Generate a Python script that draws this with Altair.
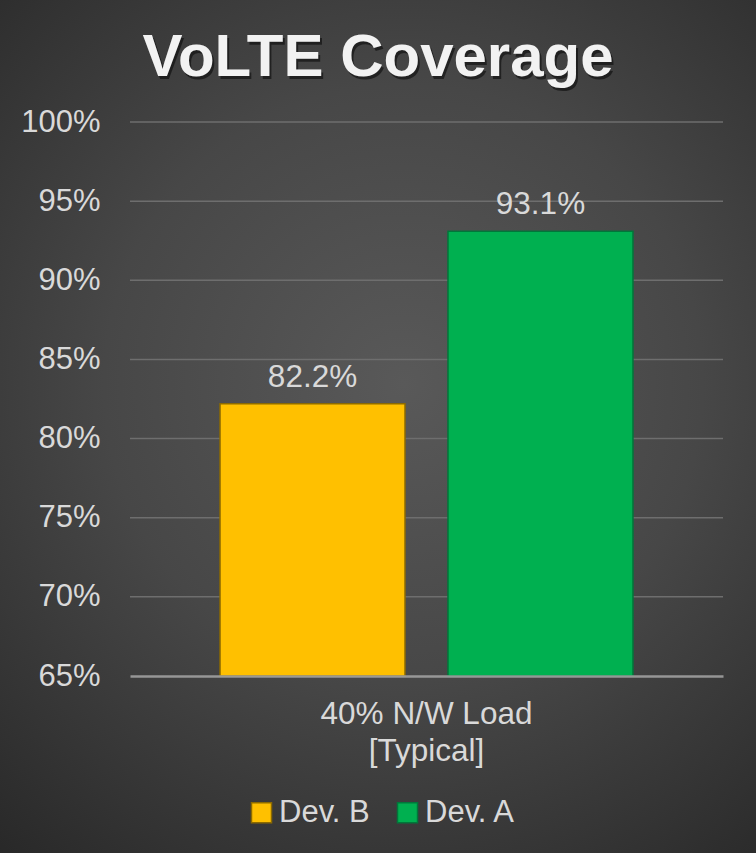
import altair as alt
import pandas as pd

# ---------------- data ----------------
TITLE = "VoLTE Coverage"
CATEGORY = "40% N/W Load|[Typical]"
DEVICES = ["Dev. B", "Dev. A"]
VALUES = [0.822, 0.931]
FILL_COLORS = ["#FFC000", "#00B050"]
STROKE_COLORS = ["#8C6A00", "#00773A"]
Y_TICKS = [0.65, 0.70, 0.75, 0.80, 0.85, 0.90, 0.95, 1.00]
Y_MIN, Y_MAX = 0.65, 1.00

# ---------------- layout ----------------
W, H = 593, 554
PAD_L, PAD_T, PAD_R, PAD_B = 130, 122, 33, 177
FONT = "Liberation Sans"
TXT = "#D9D9D9"

df = pd.DataFrame({
    "cat": [CATEGORY] * len(DEVICES),
    "dev": DEVICES,
    "val": VALUES,
    "base": [Y_MIN] * len(DEVICES),
})
grid_df = pd.DataFrame({"tick": Y_TICKS[1:]})

x_enc = alt.X("cat:N", scale=alt.Scale(paddingInner=0, paddingOuter=0.218),
              axis=alt.Axis(title=None, labelAngle=0, ticks=False, domain=True,
                            domainColor="#A6A6A6", domainWidth=2.5, domainOpacity=0.85,
                            labelExpr="split(datum.label, '|')", labelLimit=0,
                            labelFont=FONT, labelFontSize=31.5, labelColor=TXT,
                            labelLineHeight=37, labelPadding=22, grid=False, zindex=1))
xo_enc = alt.XOffset("dev:N", sort=DEVICES,
                     scale=alt.Scale(paddingInner=0.1886, paddingOuter=0))
y_scale = alt.Scale(domain=[Y_MIN, Y_MAX], zero=False, nice=False)
y_axis = alt.Axis(title=None, values=Y_TICKS, format=".0%", ticks=False, domain=False,
                  grid=False, labelFont=FONT, labelFontSize=31, labelColor=TXT,
                  labelPadding=30, zindex=1)

legend_props = dict(title=None, orient="none", direction="horizontal",
                    legendX=116, legendY=675, symbolType="square",
                    symbolSize=400, symbolStrokeWidth=1.5,
                    labelFont=FONT, labelFontSize=31, labelColor=TXT,
                    labelOffset=2, columnPadding=22, padding=0)

bg = alt.Chart(alt.Data(values=[{}])).mark_rect(
    fill=alt.RadialGradient(
        gradient="radial",
        stops=[alt.GradientStop(offset=0, color="#595959"),
               alt.GradientStop(offset=0.45, color="#474747"),
               alt.GradientStop(offset=1, color="#242424")],
        x1=0.53, y1=0.45, r1=0, x2=0.53, y2=0.45, r2=0.78)
).encode(x=alt.value(-PAD_L), x2=alt.value(W + PAD_R),
         y=alt.value(-PAD_T), y2=alt.value(H + PAD_B))

grid = alt.Chart(grid_df).mark_rule(color="#6E6E6E", strokeWidth=1.5).encode(
    y=alt.Y("tick:Q", scale=y_scale, axis=y_axis)
)

bars = alt.Chart(df).mark_bar(strokeWidth=1.5).encode(
    x=x_enc,
    xOffset=xo_enc,
    y=alt.Y("val:Q", scale=y_scale, axis=y_axis),
    y2="base:Q",
    color=alt.Color("dev:N", sort=DEVICES,
                    scale=alt.Scale(domain=DEVICES, range=FILL_COLORS),
                    legend=alt.Legend(**legend_props)),
    stroke=alt.Stroke("dev:N", sort=DEVICES,
                      scale=alt.Scale(domain=DEVICES, range=STROKE_COLORS),
                      legend=alt.Legend(**legend_props)),
)

labels = alt.Chart(df).mark_text(dy=-17, baseline="alphabetic", font=FONT,
                                 fontSize=31.5, color=TXT).encode(
    x=x_enc, xOffset=xo_enc,
    y=alt.Y("val:Q", scale=y_scale, axis=y_axis),
    text=alt.Text("val:Q", format=".1%"),
)

title_df = alt.Data(values=[{"t": TITLE}])
title_shadow = alt.Chart(title_df).mark_text(
    font=FONT, fontSize=60, fontWeight="bold", color="#000000", opacity=0.5,
    align="center", baseline="alphabetic", dx=2, dy=3
).encode(x=alt.value(378 - PAD_L), y=alt.value(76 - PAD_T), text="t:N")
title = alt.Chart(title_df).mark_text(
    font=FONT, fontSize=60, fontWeight="bold", color="#F2F2F2",
    align="center", baseline="alphabetic"
).encode(x=alt.value(378 - PAD_L), y=alt.value(76 - PAD_T), text="t:N")

chart = alt.layer(bg, grid, bars, labels, title_shadow, title).properties(
    width=W, height=H,
    autosize=alt.AutoSizeParams(type="none"),
    padding={"left": PAD_L, "top": PAD_T, "right": PAD_R, "bottom": PAD_B},
    background="#2E2E2E",
).configure_view(stroke=None)

chart.save("out.html", embed_options={"renderer": "svg", "actions": False})
